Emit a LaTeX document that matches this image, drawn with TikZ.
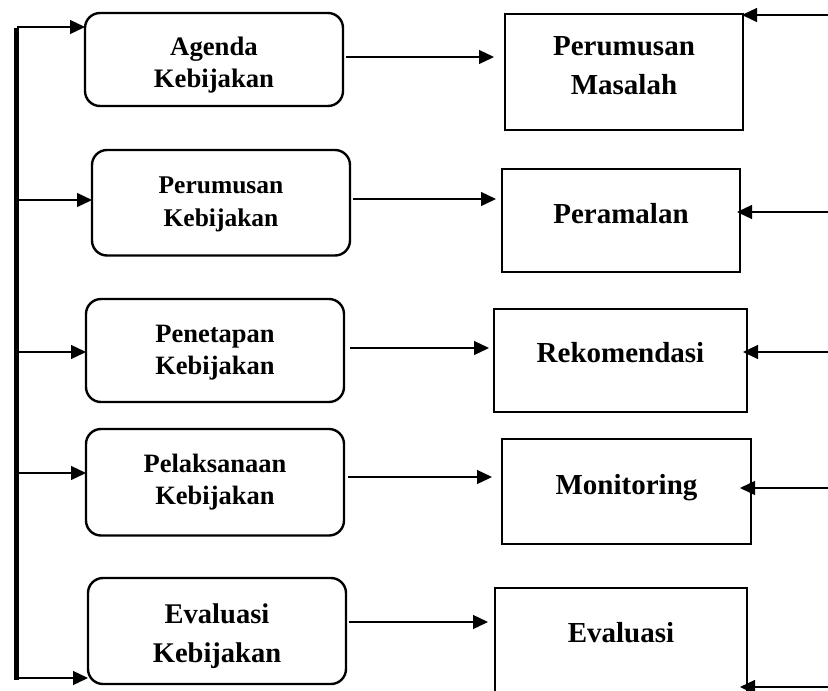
\documentclass[tikz,border=0pt]{standalone}
\usepackage{fontspec}
\setmainfont{Liberation Serif}
\usetikzlibrary{arrows.meta}
\begin{document}
\begin{tikzpicture}[x=1pt,y=-1pt,
  lbox/.style={draw, line width=2.4pt, rounded corners=15pt, inner sep=0pt, outer sep=0pt, align=center, minimum width=258pt, text depth=0pt},
  rbox/.style={draw, line width=2.4pt, inner sep=0pt, outer sep=0pt, align=center, font=\bfseries\fontsize{29}{39}\selectfont, text depth=0pt},
  arr/.style={line width=1.3pt, -{Triangle[length=15pt,width=14pt]}},
  bar/.style={line width=5.5pt}]
\useasboundingbox (0,0) rectangle (828,691);
\clip (0,0) rectangle (828,691);

% left column
\node[lbox, minimum height=93pt, text height=55.6pt, font=\bfseries\fontsize{26.7}{31.5}\selectfont] (a1) at (214,59.5) {Agenda\\Kebijakan};
\node[lbox, minimum height=105.5pt, text height=46.5pt, font=\bfseries\fontsize{25.5}{33}\selectfont] (a2) at (221,202.75) {Perumusan\\Kebijakan};
\node[lbox, minimum height=103pt, text height=47pt, font=\bfseries\fontsize{26.5}{32}\selectfont] (a3) at (215,350.5) {Penetapan\\Kebijakan};
\node[lbox, minimum height=106.5pt, text height=43.5pt, font=\bfseries\fontsize{26.5}{32}\selectfont] (a4) at (215,482.25) {Pelaksanaan\\Kebijakan};
\node[lbox, minimum height=106pt, text height=62pt, font=\bfseries\fontsize{28.5}{39}\selectfont] (a5) at (217,631) {Evaluasi\\Kebijakan};

% right column
\node[rbox, minimum width=238pt, minimum height=116pt, text height=44pt] (r1) at (624,72) {Perumusan\\Masalah};
\node[rbox, minimum width=238pt, minimum height=103pt, text height=5pt] (r2) at (621,220.5) {Peramalan};
\node[rbox, minimum width=253pt, minimum height=103pt, text height=3pt] (r3) at (620.5,360.5) {Rekomendasi};
\node[rbox, minimum width=249pt, minimum height=105pt, text height=5pt] (r4) at (626.5,491.5) {Monitoring};
\node[rbox, minimum width=252pt, minimum height=112pt, text height=0pt, text depth=4pt] (r5) at (621,644) {Evaluasi};

% vertical bar
\coordinate (bt) at (16.5,28);
\coordinate (bb) at (16.5,680);
\draw[bar] (bt) -- (bb);

% arrows from bar
\coordinate (l1) at (17,27);
\coordinate (l2) at (17,200);
\coordinate (l3) at (17,352);
\coordinate (l4) at (17,473);
\coordinate (l5) at (17,678);
\draw[arr] (l1) -- (l1 -| a1.west);
\draw[arr] (l2) -- (l2 -| a2.west);
\draw[arr] (l3) -- (l3 -| a3.west);
\draw[arr] (l4) -- (l4 -| a4.west);
\draw[arr] (l5) -- (l5 -| a5.west);

% middle arrows
\coordinate (m1) at (0,57);
\coordinate (m2) at (0,199);
\coordinate (m3) at (0,348);
\coordinate (m4) at (0,477);
\coordinate (m5) at (0,622);
\draw[arr, shorten <=3pt, shorten >=11pt] (a1.east |- m1) -- (r1.west |- m1);
\draw[arr, shorten <=3pt, shorten >=6pt] (a2.east |- m2) -- (r2.west |- m2);
\draw[arr, shorten <=6pt, shorten >=5pt] (a3.east |- m3) -- (r3.west |- m3);
\draw[arr, shorten <=4pt, shorten >=10pt] (a4.east |- m4) -- (r4.west |- m4);
\draw[arr, shorten <=3pt, shorten >=7pt] (a5.east |- m5) -- (r5.west |- m5);

% arrows from right edge
\coordinate (e1) at (828,15);
\coordinate (e2) at (828,212);
\coordinate (e3) at (828,352);
\coordinate (e4) at (828,488);
\coordinate (e5) at (828,687);
\draw[arr, shorten >=-1pt] (e1) -- (e1 -| r1.east);
\draw[arr, shorten >=-3pt] (e2) -- (e2 -| r2.east);
\draw[arr, shorten >=-4pt] (e3) -- (e3 -| r3.east);
\draw[arr, shorten >=-11pt] (e4) -- (e4 -| r4.east);
\draw[arr, shorten >=-7pt] (e5) -- (e5 -| r5.east);
\end{tikzpicture}
\end{document}
